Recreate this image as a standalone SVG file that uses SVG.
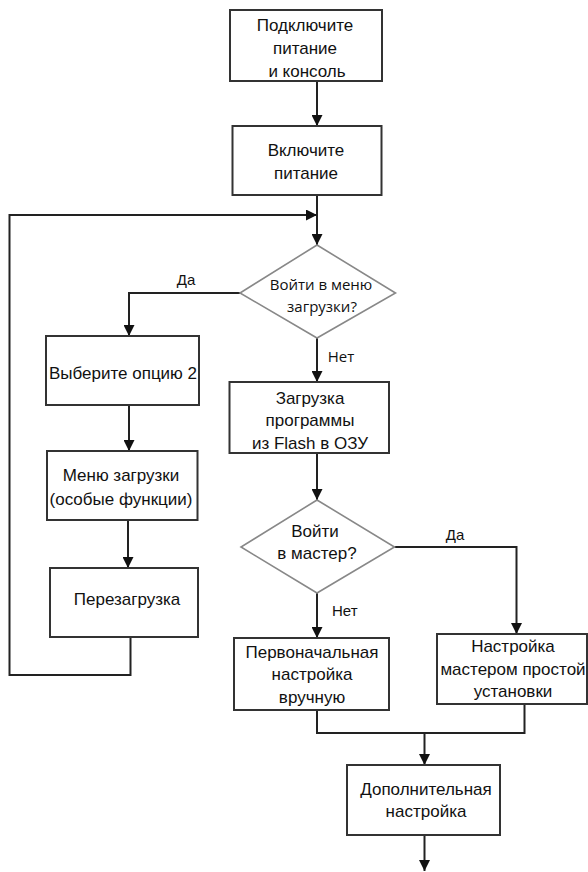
<svg xmlns="http://www.w3.org/2000/svg" width="588" height="872" viewBox="0 0 588 872">
<defs>
<marker id="ah" viewBox="0 0 10 10" refX="10" refY="5" markerWidth="11" markerHeight="11" markerUnits="userSpaceOnUse" orient="auto">
<path d="M0,0 L10,5 L0,10 z" fill="#111"/>
</marker>
<style>
.box{fill:#fff;stroke:#333;stroke-width:2}
.dia{fill:#fff;stroke:#888;stroke-width:1.6}
.t{font-family:"Liberation Sans",Arial,sans-serif;font-size:17px;fill:#111;text-anchor:middle}
.to{font-family:"Open Sans","Liberation Sans",sans-serif;font-size:15px;fill:#111;text-anchor:middle}
.lb{font-family:"Liberation Sans",Arial,sans-serif;font-size:15px;fill:#111}
.c{fill:none;stroke:#222;stroke-width:2}
.ca{fill:none;stroke:#222;stroke-width:2;marker-end:url(#ah)}
</style>
</defs>
<rect width="588" height="872" fill="#fff"/>
<g id="connectors">
<path class="ca" d="M317,81 V126"/>
<path class="ca" d="M317,195 V245"/>
<path class="ca" d="M130.5,637 V675 H9.5 V215 H317"/>
<path class="ca" d="M240,293 H129 V336"/>
<path class="ca" d="M317,338 V382"/>
<path class="ca" d="M129,405 V451"/>
<path class="ca" d="M128,520 V568"/>
<path class="ca" d="M317,453 V500"/>
<path class="ca" d="M394.5,547 H516.5 V634"/>
<path class="ca" d="M317,593 V638"/>
<path class="c" d="M317,710 V733 H524.5 V704"/>
<path class="ca" d="M424.5,733 V765"/>
<path class="ca" d="M424.5,835 V871"/>
<text class="lb" x="186" y="285" text-anchor="middle">Да</text>
<text class="to" x="341" y="362">Нет</text>
<text class="lb" x="455" y="540" text-anchor="middle">Да</text>
<text class="lb" x="332" y="616">Нет</text>
</g>
<g id="n1">
<rect class="box" x="230" y="10" width="152" height="71"/>
<text class="t" x="305" y="31">Подключите</text>
<text class="t" x="305" y="54">питание</text>
<text class="t" x="307" y="77">и консоль</text>
</g>
<g id="n2">
<rect class="box" x="232.5" y="126" width="149" height="69"/>
<text class="t" x="306" y="156">Включите</text>
<text class="t" x="306" y="179">питание</text>
</g>
<g id="d1">
<polygon class="dia" points="317,245 395.5,293 317,338 240,293"/>
<text class="to" x="321" y="290">Войти в меню</text>
<text class="to" x="322" y="312">загрузки?</text>
</g>
<g id="n3">
<rect class="box" x="46" y="336" width="153" height="69"/>
<text class="t" x="123" y="379">Выберите опцию 2</text>
</g>
<g id="n4">
<rect class="box" x="229.5" y="382" width="159.5" height="71"/>
<text class="t" x="310" y="404">Загрузка</text>
<text class="t" x="310" y="426">программы</text>
<text class="t" x="310" y="449">из Flash в ОЗУ</text>
</g>
<g id="n5">
<rect class="box" x="47" y="451" width="150.5" height="69"/>
<text class="t" x="121" y="481">Меню загрузки</text>
<text class="t" x="121" y="505">(особые функции)</text>
</g>
<g id="n6">
<rect class="box" x="50" y="568" width="148" height="69"/>
<text class="t" x="127" y="605">Перезагрузка</text>
</g>
<g id="d2">
<polygon class="dia" points="317,500 394.5,547 317,593 241,547"/>
<text class="t" x="315" y="537">Войти</text>
<text class="t" x="317" y="559">в мастер?</text>
</g>
<g id="n7">
<rect class="box" x="234" y="638" width="155" height="72"/>
<text class="t" x="312" y="658">Первоначальная</text>
<text class="t" x="312" y="680">настройка</text>
<text class="t" x="312" y="703">вручную</text>
</g>
<g id="n8">
<rect class="box" x="437" y="634" width="150" height="70"/>
<text class="t" x="513" y="652">Настройка</text>
<text class="t" x="513" y="675">мастером простой</text>
<text class="t" x="513" y="697">установки</text>
</g>
<g id="n9">
<rect class="box" x="347" y="765" width="153" height="70"/>
<text class="t" x="426" y="795">Дополнительная</text>
<text class="t" x="426" y="817">настройка</text>
</g>
</svg>
